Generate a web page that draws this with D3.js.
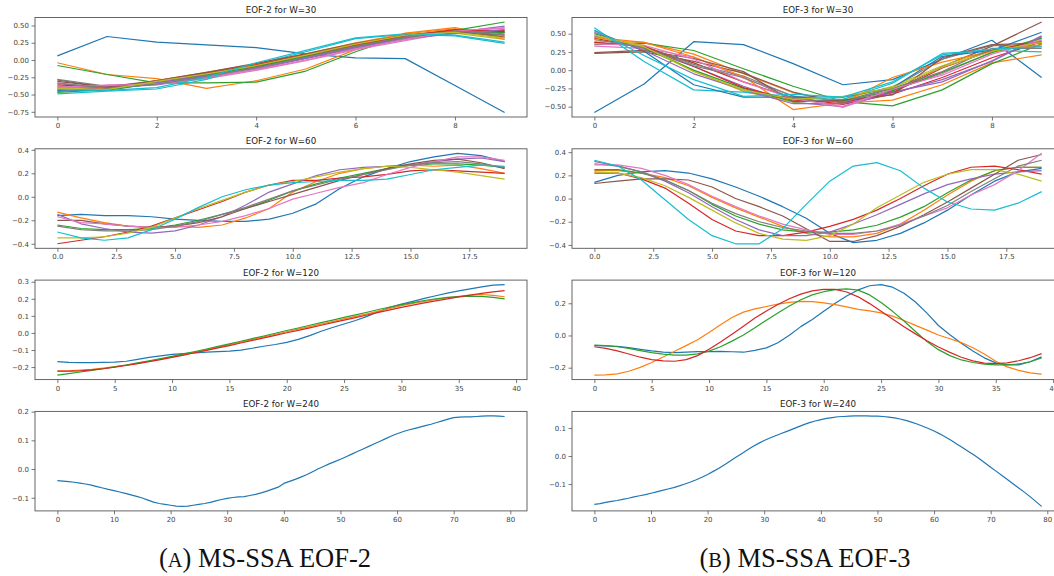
<!DOCTYPE html>
<html>
<head>
<meta charset="utf-8">
<script src="https://cdn.jsdelivr.net/npm/d3@7"></script>
<style>
  body { margin: 0; background: #fff; }
  svg { display: block; }
  .tick text { font-family: "DejaVu Sans", sans-serif; font-size: 7px; fill: #444; }
  .tick line { stroke: #555; stroke-width: 0.8; }
  .ptitle { font-family: "DejaVu Sans", sans-serif; font-size: 8.7px; fill: #222; text-anchor: middle; }
  .caption { font-family: "Liberation Serif", "DejaVu Serif", serif; font-size: 26.5px; fill: #111; text-anchor: middle; }
</style>
</head>
<body>
<svg id="chart" width="1054" height="576"></svg>
<script>
// ---- data ----
// EOF-2, W=30 : 20 series x 10 lags
var eof2W30 = [
  [0.06, 0.34, 0.26, 0.22, 0.18, 0.09, 0.03, 0.02, -0.37, -0.76],
  [-0.04, -0.21, -0.27, -0.41, -0.30, -0.13, 0.15, 0.39, 0.47, 0.33],
  [-0.08, -0.21, -0.33, -0.33, -0.32, -0.16, 0.12, 0.36, 0.43, 0.55],
  [-0.38, -0.42, -0.33, -0.22, -0.10, 0.05, 0.20, 0.33, 0.42, 0.43],
  [-0.34, -0.40, -0.36, -0.26, -0.13, 0.02, 0.17, 0.30, 0.40, 0.49],
  [-0.29, -0.40, -0.34, -0.23, -0.09, 0.06, 0.21, 0.34, 0.40, 0.36],
  [-0.42, -0.36, -0.35, -0.27, -0.15, -0.01, 0.15, 0.28, 0.41, 0.46],
  [-0.28, -0.38, -0.32, -0.21, -0.08, 0.07, 0.22, 0.34, 0.42, 0.36],
  [-0.45, -0.42, -0.30, -0.19, -0.07, 0.08, 0.24, 0.35, 0.39, 0.30],
  [-0.49, -0.45, -0.42, -0.28, -0.06, 0.12, 0.31, 0.37, 0.35, 0.24],
  [-0.44, -0.44, -0.33, -0.20, -0.06, 0.08, 0.23, 0.36, 0.39, 0.40],
  [-0.40, -0.41, -0.30, -0.18, -0.06, 0.09, 0.25, 0.38, 0.45, 0.30],
  [-0.47, -0.43, -0.34, -0.22, -0.09, 0.05, 0.19, 0.32, 0.41, 0.40],
  [-0.36, -0.40, -0.31, -0.19, -0.07, 0.08, 0.22, 0.35, 0.44, 0.41],
  [-0.46, -0.39, -0.32, -0.23, -0.12, 0.03, 0.18, 0.31, 0.38, 0.44],
  [-0.31, -0.39, -0.30, -0.18, -0.05, 0.09, 0.24, 0.36, 0.41, 0.33],
  [-0.39, -0.37, -0.34, -0.25, -0.14, 0.00, 0.16, 0.30, 0.42, 0.47],
  [-0.33, -0.41, -0.35, -0.24, -0.11, 0.04, 0.20, 0.33, 0.42, 0.38],
  [-0.41, -0.43, -0.31, -0.20, -0.08, 0.07, 0.23, 0.36, 0.40, 0.32],
  [-0.43, -0.44, -0.40, -0.25, -0.04, 0.14, 0.32, 0.38, 0.36, 0.26]
];

// EOF-3, W=30
var eof3W30 = [
  [-0.58, -0.19, 0.39, 0.35, 0.09, -0.20, -0.13, 0.15, 0.41, -0.10],
  [0.40, 0.38, 0.22, -0.05, -0.31, -0.45, -0.41, -0.20, 0.10, 0.21],
  [0.35, 0.37, 0.27, 0.02, -0.22, -0.43, -0.49, -0.27, 0.09, 0.36],
  [0.44, 0.31, 0.10, -0.16, -0.38, -0.47, -0.33, -0.10, 0.17, 0.39],
  [0.47, 0.29, 0.05, -0.22, -0.44, -0.50, -0.30, -0.16, 0.13, 0.47],
  [0.23, 0.25, 0.12, -0.04, -0.30, -0.45, -0.29, 0.05, 0.33, 0.66],
  [0.33, 0.30, 0.18, -0.11, -0.35, -0.51, -0.27, -0.05, 0.25, 0.44],
  [0.38, 0.33, 0.08, -0.08, -0.36, -0.42, -0.24, 0.15, 0.34, 0.33],
  [0.45, 0.34, -0.01, -0.29, -0.44, -0.40, -0.22, 0.06, 0.28, 0.42],
  [0.58, 0.12, -0.27, -0.30, -0.38, -0.40, -0.18, 0.23, 0.27, 0.25],
  [0.54, 0.26, -0.20, -0.37, -0.37, -0.37, -0.24, 0.19, 0.27, 0.52],
  [0.45, 0.38, 0.18, -0.09, -0.54, -0.45, -0.10, 0.11, 0.26, 0.35],
  [0.50, 0.30, 0.00, -0.25, -0.43, -0.42, -0.28, -0.03, 0.24, 0.44],
  [0.38, 0.33, 0.05, -0.24, -0.41, -0.44, -0.31, 0.03, 0.27, 0.40],
  [0.52, 0.27, -0.05, -0.27, -0.46, -0.46, -0.31, -0.13, 0.12, 0.46],
  [0.24, 0.27, 0.16, -0.02, -0.43, -0.41, -0.34, 0.17, 0.35, 0.37],
  [0.36, 0.34, 0.15, -0.16, -0.39, -0.50, -0.26, -0.07, 0.22, 0.41],
  [0.42, 0.31, 0.06, -0.10, -0.39, -0.44, -0.25, -0.02, 0.30, 0.30],
  [0.48, 0.32, -0.02, -0.27, -0.40, -0.36, -0.24, 0.04, 0.26, 0.38],
  [0.55, 0.20, -0.13, -0.36, -0.33, -0.37, -0.16, 0.21, 0.29, 0.32]
];

// EOF-2, W=60 : 10 series x 20 lags
var eof2W60 = [
  [-0.16, -0.15, -0.16, -0.16, -0.17, -0.19, -0.20, -0.21, -0.21, -0.19, -0.14, -0.06, 0.07, 0.17, 0.24, 0.30, 0.34, 0.37, 0.35, 0.30],
  [-0.13, -0.18, -0.22, -0.25, -0.26, -0.25, -0.26, -0.24, -0.18, -0.10, 0.04, 0.13, 0.20, 0.24, 0.26, 0.27, 0.26, 0.27, 0.24, 0.20],
  [-0.24, -0.27, -0.28, -0.28, -0.27, -0.24, -0.20, -0.15, -0.10, -0.03, 0.05, 0.11, 0.16, 0.20, 0.24, 0.27, 0.28, 0.28, 0.27, 0.25],
  [-0.40, -0.37, -0.34, -0.30, -0.25, -0.18, -0.11, -0.04, 0.04, 0.10, 0.14, 0.14, 0.16, 0.17, 0.19, 0.22, 0.23, 0.22, 0.21, 0.20],
  [-0.15, -0.23, -0.27, -0.30, -0.31, -0.29, -0.24, -0.17, -0.07, 0.04, 0.11, 0.18, 0.23, 0.25, 0.26, 0.27, 0.30, 0.32, 0.33, 0.30],
  [-0.20, -0.20, -0.23, -0.25, -0.26, -0.25, -0.22, -0.17, -0.10, -0.04, 0.02, 0.08, 0.14, 0.19, 0.24, 0.28, 0.31, 0.32, 0.29, 0.24],
  [-0.17, -0.22, -0.23, -0.25, -0.26, -0.26, -0.24, -0.21, -0.16, -0.10, -0.02, 0.03, 0.08, 0.12, 0.19, 0.25, 0.30, 0.34, 0.34, 0.31],
  [-0.25, -0.28, -0.29, -0.29, -0.28, -0.25, -0.21, -0.15, -0.09, -0.02, 0.05, 0.10, 0.15, 0.19, 0.23, 0.27, 0.29, 0.30, 0.28, 0.25],
  [-0.35, -0.35, -0.34, -0.31, -0.26, -0.18, -0.10, -0.03, 0.04, 0.10, 0.13, 0.17, 0.21, 0.24, 0.26, 0.25, 0.23, 0.21, 0.18, 0.15],
  [-0.30, -0.35, -0.37, -0.35, -0.28, -0.19, -0.09, 0.00, 0.06, 0.10, 0.12, 0.13, 0.14, 0.14, 0.15, 0.19, 0.23, 0.25, 0.27, 0.26]
];

// EOF-3, W=60
var eof3W60 = [
  [0.14, 0.20, 0.23, 0.24, 0.22, 0.17, 0.10, 0.02, -0.07, -0.17, -0.30, -0.38, -0.36, -0.30, -0.21, -0.10, 0.03, 0.15, 0.23, 0.26],
  [0.24, 0.24, 0.22, 0.18, 0.11, 0.01, -0.08, -0.16, -0.24, -0.30, -0.33, -0.33, -0.30, -0.22, -0.10, 0.03, 0.15, 0.24, 0.27, 0.27],
  [0.25, 0.25, 0.22, 0.16, 0.07, -0.05, -0.15, -0.22, -0.27, -0.29, -0.29, -0.27, -0.23, -0.16, -0.07, 0.05, 0.16, 0.24, 0.27, 0.27],
  [0.22, 0.22, 0.17, 0.09, -0.04, -0.18, -0.28, -0.32, -0.32, -0.29, -0.24, -0.18, -0.10, 0.00, 0.11, 0.21, 0.27, 0.28, 0.25, 0.21],
  [0.30, 0.28, 0.23, 0.15, 0.05, -0.07, -0.18, -0.27, -0.32, -0.32, -0.29, -0.22, -0.14, -0.05, 0.04, 0.12, 0.17, 0.21, 0.23, 0.24],
  [0.13, 0.15, 0.17, 0.17, 0.16, 0.10, 0.00, -0.07, -0.15, -0.26, -0.37, -0.37, -0.32, -0.24, -0.14, -0.03, 0.09, 0.21, 0.33, 0.38],
  [0.29, 0.29, 0.26, 0.20, 0.12, 0.02, -0.07, -0.15, -0.22, -0.27, -0.31, -0.31, -0.28, -0.22, -0.15, -0.08, 0.03, 0.12, 0.24, 0.39],
  [0.32, 0.28, 0.23, 0.16, 0.07, -0.04, -0.13, -0.20, -0.25, -0.28, -0.30, -0.30, -0.28, -0.23, -0.15, -0.06, 0.06, 0.17, 0.28, 0.33],
  [0.23, 0.22, 0.18, 0.11, 0.01, -0.10, -0.21, -0.30, -0.35, -0.36, -0.32, -0.22, -0.08, 0.03, 0.14, 0.21, 0.25, 0.25, 0.21, 0.15],
  [0.33, 0.28, 0.16, -0.01, -0.18, -0.32, -0.39, -0.39, -0.26, -0.05, 0.15, 0.28, 0.31, 0.24, 0.09, -0.03, -0.09, -0.10, -0.04, 0.06]
];

// EOF-2, W=120 : 4 series x 40 lags
var eof2W120 = [
  [-0.168, -0.172, -0.174, -0.174, -0.173, -0.171, -0.166, -0.155, -0.143, -0.134, -0.126, -0.121, -0.117, -0.113, -0.110, -0.107, -0.101, -0.090, -0.078, -0.068,
   -0.055, -0.038, -0.016, 0.010, 0.032, 0.052, 0.073, 0.097, 0.124, 0.150, 0.169, 0.185, 0.202, 0.218, 0.233, 0.246, 0.258, 0.270, 0.280, 0.283],
  [-0.224, -0.222, -0.218, -0.213, -0.206, -0.198, -0.189, -0.178, -0.166, -0.153, -0.140, -0.127, -0.113, -0.099, -0.084, -0.069, -0.054, -0.038, -0.023, -0.008,
   0.007, 0.022, 0.037, 0.052, 0.067, 0.082, 0.097, 0.112, 0.128, 0.144, 0.160, 0.173, 0.185, 0.196, 0.206, 0.215, 0.222, 0.225, 0.220, 0.212],
  [-0.247, -0.238, -0.229, -0.220, -0.210, -0.199, -0.188, -0.176, -0.163, -0.150, -0.137, -0.123, -0.109, -0.094, -0.079, -0.064, -0.049, -0.033, -0.018, -0.002,
   0.014, 0.029, 0.045, 0.060, 0.075, 0.091, 0.106, 0.121, 0.137, 0.152, 0.166, 0.178, 0.190, 0.200, 0.208, 0.213, 0.215, 0.214, 0.208, 0.199],
  [-0.224, -0.224, -0.222, -0.217, -0.210, -0.201, -0.191, -0.180, -0.168, -0.156, -0.143, -0.130, -0.116, -0.102, -0.088, -0.074, -0.059, -0.044, -0.029, -0.014,
   0.001, 0.015, 0.030, 0.045, 0.060, 0.075, 0.090, 0.105, 0.120, 0.135, 0.150, 0.163, 0.176, 0.188, 0.200, 0.211, 0.222, 0.232, 0.241, 0.248]
];

// EOF-3, W=120
var eof3W120 = [
  [-0.063, -0.064, -0.068, -0.076, -0.086, -0.096, -0.103, -0.106, -0.103, -0.100, -0.100, -0.099, -0.101, -0.104, -0.092, -0.077, -0.045, 0.002, 0.055, 0.100,
   0.150, 0.200, 0.245, 0.283, 0.309, 0.316, 0.300, 0.262, 0.208, 0.139, 0.062, 0.005, -0.048, -0.096, -0.139, -0.170, -0.183, -0.183, -0.163, -0.133],
  [-0.246, -0.245, -0.238, -0.222, -0.198, -0.168, -0.134, -0.098, -0.063, -0.027, 0.018, 0.067, 0.112, 0.145, 0.165, 0.180, 0.195, 0.206, 0.212, 0.210,
   0.203, 0.192, 0.178, 0.162, 0.153, 0.140, 0.120, 0.093, 0.063, 0.033, 0.003, -0.020, -0.044, -0.076, -0.115, -0.160, -0.195, -0.217, -0.232, -0.240],
  [-0.060, -0.063, -0.070, -0.080, -0.094, -0.107, -0.116, -0.122, -0.122, -0.114, -0.097, -0.070, -0.035, 0.003, 0.048, 0.095, 0.140, 0.183, 0.222, 0.252,
   0.272, 0.285, 0.290, 0.282, 0.252, 0.205, 0.150, 0.090, 0.025, -0.038, -0.088, -0.125, -0.152, -0.168, -0.178, -0.182, -0.182, -0.177, -0.163, -0.140],
  [-0.070, -0.080, -0.096, -0.115, -0.135, -0.150, -0.158, -0.160, -0.150, -0.125, -0.085, -0.040, 0.008, 0.058, 0.108, 0.152, 0.193, 0.228, 0.257, 0.277,
   0.287, 0.286, 0.270, 0.240, 0.198, 0.150, 0.102, 0.055, 0.010, -0.033, -0.072, -0.105, -0.135, -0.158, -0.172, -0.175, -0.170, -0.157, -0.138, -0.113]
];

// EOF-2, W=240 : 1 series x 80 lags
var eof2W240 = [[
  -0.040, -0.042, -0.044, -0.046, -0.049, -0.052, -0.056, -0.061, -0.066, -0.071,
  -0.075, -0.080, -0.085, -0.090, -0.095, -0.101, -0.108, -0.115, -0.120, -0.123,
  -0.126, -0.129, -0.130, -0.129, -0.126, -0.123, -0.120, -0.116, -0.111, -0.106,
  -0.102, -0.099, -0.097, -0.096, -0.092, -0.088, -0.083, -0.077, -0.070, -0.063,
  -0.050, -0.043, -0.036, -0.028, -0.020, -0.010, 0.000, 0.009, 0.018, 0.026,
  0.034, 0.043, 0.052, 0.061, 0.070, 0.079, 0.088, 0.097, 0.106, 0.115,
  0.123, 0.130, 0.136, 0.141, 0.146, 0.151, 0.156, 0.162, 0.168, 0.174,
  0.179, 0.181, 0.182, 0.182, 0.183, 0.184, 0.185, 0.185, 0.184, 0.183
]];

// EOF-3, W=240
var eof3W240 = [[
  -0.173, -0.170, -0.166, -0.162, -0.159, -0.155, -0.151, -0.146, -0.142, -0.138,
  -0.133, -0.128, -0.123, -0.118, -0.113, -0.107, -0.100, -0.093, -0.085, -0.076,
  -0.066, -0.055, -0.044, -0.031, -0.018, -0.005, 0.008, 0.021, 0.034, 0.045,
  0.055, 0.064, 0.072, 0.080, 0.088, 0.096, 0.104, 0.112, 0.119, 0.125,
  0.130, 0.134, 0.137, 0.140, 0.141, 0.142, 0.143, 0.143, 0.143, 0.142,
  0.142, 0.141, 0.139, 0.136, 0.132, 0.127, 0.121, 0.114, 0.106, 0.098,
  0.089, 0.079, 0.068, 0.056, 0.043, 0.030, 0.017, 0.004, -0.010, -0.025,
  -0.040, -0.055, -0.070, -0.085, -0.100, -0.115, -0.130, -0.146, -0.163, -0.180
]];

// tick values
var xTicks30 = [0, 2, 4, 6, 8];
var xTicks60 = [0, 2.5, 5, 7.5, 10, 12.5, 15, 17.5];
var xTicks120 = [0, 5, 10, 15, 20, 25, 30, 35, 40];
var xTicks240 = [0, 10, 20, 30, 40, 50, 60, 70, 80];
var yTicks2W30 = [-0.75, -0.5, -0.25, 0, 0.25, 0.5];
var yTicks3W30 = [-0.5, -0.25, 0, 0.25, 0.5];
var yTicksW60 = [-0.4, -0.2, 0, 0.2, 0.4];
var yTicks2W120 = [-0.2, -0.1, 0, 0.1, 0.2, 0.3];
var yTicks3W120 = [-0.2, 0, 0.2];
var yTicks2W240 = [-0.1, 0, 0.1, 0.2];
var yTicks3W240 = [-0.1, 0, 0.1];

var titles2 = ["EOF-2 for W=30", "EOF-2 for W=60", "EOF-2 for W=120", "EOF-2 for W=240"];
var titles3 = ["EOF-3 for W=30", "EOF-3 for W=60", "EOF-3 for W=120", "EOF-3 for W=240"];
var captions = ["MS-SSA EOF-2", "MS-SSA EOF-3"];
var captionTags = ["A", "B"];

var colors = d3.schemeCategory10;

// panel list (col 0 = EOF-2, col 1 = EOF-3)
var panels = [
  {col: 0, row: 0, title: titles2[0], series: eof2W30,  xt: xTicks30,  yt: yTicks2W30,  xf: "d",   yf: ".2f"},
  {col: 1, row: 0, title: titles3[0], series: eof3W30,  xt: xTicks30,  yt: yTicks3W30,  xf: "d",   yf: ".2f"},
  {col: 0, row: 1, title: titles2[1], series: eof2W60,  xt: xTicks60,  yt: yTicksW60,   xf: ".1f", yf: ".1f"},
  {col: 1, row: 1, title: titles3[1], series: eof3W60,  xt: xTicks60,  yt: yTicksW60,   xf: ".1f", yf: ".1f"},
  {col: 0, row: 2, title: titles2[2], series: eof2W120, xt: xTicks120, yt: yTicks2W120, xf: "d",   yf: ".1f"},
  {col: 1, row: 2, title: titles3[2], series: eof3W120, xt: xTicks120, yt: yTicks3W120, xf: "d",   yf: ".1f"},
  {col: 0, row: 3, title: titles2[3], series: eof2W240, xt: xTicks240, yt: yTicks2W240, xf: "d",   yf: ".1f"},
  {col: 1, row: 3, title: titles3[3], series: eof3W240, xt: xTicks240, yt: yTicks3W240, xf: "d",   yf: ".1f"}
];

var svg = d3.select("#chart");

var colLeft = [35, 572],
    panelW = 492,
    panelH = 99.5,
    rowTop = 17.5,
    rowStep = 131.3;

panels.forEach(function(p){
  var left = colLeft[p.col],
      top = rowTop + p.row * rowStep;
  var n = p.series[0].length;

  // matplotlib style 5% margins
  var xScale = d3.scaleLinear()
    .domain([-(n - 1) * 0.05, (n - 1) * 1.05])
    .range([0, panelW]);

  var all = d3.merge(p.series);
  var ext = d3.extent(all), pad = (ext[1] - ext[0]) * 0.05;
  var yScale = d3.scaleLinear()
    .domain([ext[0] - pad, ext[1] + pad])
    .range([panelH, 0]);

  var g = svg.append("g").attr("transform", "translate(" + left + "," + top + ")");

  var line = d3.line()
    .x(function(d, i){ return xScale(i); })
    .y(function(d){ return yScale(d); });

  g.selectAll("path.series")
    .data(p.series)
    .enter().append("path")
      .attr("class", "series")
      .attr("d", line)
      .attr("fill", "none")
      .attr("stroke", function(d, i){ return colors[i % 10]; })
      .attr("stroke-width", 1.2)
      .attr("stroke-linejoin", "round");

  // axes
  var yAxis = g.append("g")
    .call(d3.axisLeft(yScale).tickValues(p.yt).tickFormat(d3.format(p.yf)).tickSize(3.5).tickPadding(2.5).tickSizeOuter(0));
  yAxis.select(".domain").remove();

  var xAxis = g.append("g")
    .attr("transform", "translate(0," + panelH + ")")
    .call(d3.axisBottom(xScale).tickValues(p.xt).tickFormat(d3.format(p.xf)).tickSize(3.5).tickPadding(2.5).tickSizeOuter(0));
  xAxis.select(".domain").remove();

  // frame on top of lines
  g.append("rect")
    .attr("x", 0).attr("y", 0)
    .attr("width", panelW).attr("height", panelH)
    .attr("fill", "none")
    .attr("stroke", "#555")
    .attr("stroke-width", 0.9);

  g.append("text")
    .attr("class", "ptitle")
    .attr("x", panelW / 2)
    .attr("y", -4.5)
    .text(p.title);
});

// sub-figure captions
var capX = [265, 805];
captions.forEach(function(c, i){
  var t = svg.append("text")
    .attr("class", "caption")
    .attr("x", capX[i])
    .attr("y", 567);
  t.append("tspan").text("(");
  t.append("tspan").attr("font-size", "20.5px").text(captionTags[i]);
  t.append("tspan").text(") " + c);
});
</script>
</body>
</html>
